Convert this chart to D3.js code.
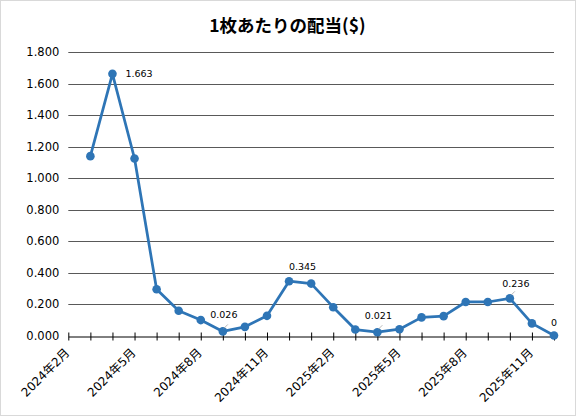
<!DOCTYPE html>
<html>
<head>
<meta charset="utf-8">
<script src="https://cdn.jsdelivr.net/npm/d3@7"></script>
<style>
  html, body { margin: 0; padding: 0; background: #fff; }
</style>
</head>
<body>
<script>
// Months on the axis (Feb 2024 .. Dec 2025)
const months = [
  "2024年2月", "2024年3月", "2024年4月", "2024年5月", "2024年6月", "2024年7月",
  "2024年8月", "2024年9月", "2024年10月", "2024年11月", "2024年12月", "2025年1月",
  "2025年2月", "2025年3月", "2025年4月", "2025年5月", "2025年6月", "2025年7月",
  "2025年8月", "2025年9月", "2025年10月", "2025年11月", "2025年12月"
];
// Only every third month is labelled
const tickLabels = ["2024年2月", "2024年5月", "2024年8月", "2024年11月",
  "2025年2月", "2025年5月", "2025年8月", "2025年11月"];

// Dividend per share, Mar 2024 .. Dec 2025
const dataMonths = months.slice(1);
const dividends = [1.140, 1.663, 1.125, 0.294, 0.157, 0.098, 0.026, 0.055, 0.125,
  0.345, 0.330, 0.180, 0.038, 0.021, 0.040, 0.115, 0.123, 0.213, 0.213, 0.236,
  0.077, 0];
const labelled = ["2024年4月", "2024年9月", "2024年12月", "2025年4月", "2025年10月", "2025年12月"];

const yTicks = [0, 0.2, 0.4, 0.6, 0.8, 1.0, 1.2, 1.4, 1.6, 1.8];

const width = 576, height = 416;
const margins = { left: 68.3, right: 22, top: 52.3, bottom: 80.5 };
const blue = "#2E75B6";
const numFont = "'DejaVu Sans', 'Noto Sans CJK JP', sans-serif";

const data = dataMonths.map((m, i) => ({ month: m, value: dividends[i] }));

// Scales
const xScale = d3.scalePoint()
  .domain(months)
  .range([margins.left, width - margins.right]);

const yScale = d3.scaleLinear()
  .domain([0, 1.8])
  .range([height - margins.bottom, margins.top]);

const svg = d3.select("body").append("svg")
  .attr("width", width)
  .attr("height", height)
  .style("display", "block");

// Chart border
svg.append("rect")
  .attr("x", 0.5).attr("y", 0.5)
  .attr("width", width - 1).attr("height", height - 1)
  .attr("fill", "#fff")
  .attr("stroke", "#d9d9d9");

// Title
svg.append("text")
  .attr("x", 287.5)
  .attr("y", 31.5)
  .attr("text-anchor", "middle")
  .attr("font-family", "'Noto Sans CJK JP', sans-serif")
  .attr("font-weight", "bold")
  .attr("font-size", "17.5px")
  .attr("fill", "#000")
  .text("1枚あたりの配当($)");

// Gridlines
svg.append("g")
  .selectAll("line")
  .data(yTicks.filter((d) => d > 0))
  .join("line")
  .attr("x1", margins.left)
  .attr("x2", width - margins.right)
  .attr("y1", (d) => Math.round(yScale(d)) + 0.5)
  .attr("y2", (d) => Math.round(yScale(d)) + 0.5)
  .attr("stroke", "#595959")
  .attr("stroke-width", 1);

// Y-axis labels (no axis line)
const yAxis = d3.axisLeft(yScale).tickValues(yTicks).tickFormat(d3.format(".3f")).tickSize(0).tickPadding(9);
svg.append("g")
  .attr("transform", `translate(${margins.left}, 0)`)
  .call(yAxis)
  .call((g) => g.select(".domain").remove())
  .selectAll("text")
  .attr("font-family", numFont)
  .attr("font-size", "11.5px")
  .attr("fill", "#000");

// X-axis with crossing ticks
const y0 = Math.round(yScale(0)) + 0.5;
const xAxis = d3.axisBottom(xScale).tickSizeInner(4).tickSizeOuter(0).tickFormat("");
const xg = svg.append("g")
  .attr("transform", `translate(0, ${y0})`)
  .call(xAxis);
xg.select(".domain").attr("stroke", "#000");
xg.selectAll(".tick line").attr("y1", -4).attr("y2", 4).attr("stroke", "#000");

// X labels, rotated
svg.append("g")
  .selectAll("text")
  .data(tickLabels)
  .join("text")
  .attr("transform", (d) => `translate(${xScale(d) + 2}, ${y0 + 17}) rotate(-45)`)
  .attr("text-anchor", "end")
  .attr("font-family", numFont)
  .attr("font-size", "12px")
  .attr("fill", "#000")
  .text((d) => d);

// Line
const line = d3.line()
  .x((d) => xScale(d.month))
  .y((d) => yScale(d.value));

svg.append("path")
  .datum(data)
  .attr("d", line)
  .attr("fill", "none")
  .attr("stroke", blue)
  .attr("stroke-width", 2.75)
  .attr("stroke-linejoin", "round");

// Markers
svg.append("g")
  .selectAll("circle")
  .data(data)
  .join("circle")
  .attr("cx", (d) => xScale(d.month))
  .attr("cy", (d) => yScale(d.value))
  .attr("r", 4.3)
  .attr("fill", blue);

// Data labels
const labelData = data.filter((d) => labelled.includes(d.month));
const lg = svg.append("g");
labelData.forEach((d) => {
  const px = xScale(d.month), py = yScale(d.value);
  let tx, ty, anchor = "middle", leader = false;
  if (d.value > 1) {
    tx = px + 13; ty = py; anchor = "start";
  } else if (d.value === 0) {
    tx = px; ty = py - 13;
  } else if (d.month === "2024年12月") {
    tx = px + 13.5; ty = py - 14.5;
  } else if (d.month === "2025年10月") {
    tx = px + 6; ty = py - 15;
    leader = true;
  } else {
    tx = px + 1; ty = py - 17;
    leader = true;
  }
  if (leader) {
    lg.append("line")
      .attr("x1", px + 1).attr("y1", py - 3)
      .attr("x2", px + 5).attr("y2", py - 7)
      .attr("stroke", "#a6a6a6")
      .attr("stroke-width", 0.8);
  }
  lg.append("text")
    .attr("x", tx)
    .attr("y", ty)
    .attr("dy", "0.35em")
    .attr("text-anchor", anchor)
    .attr("font-family", numFont)
    .attr("font-size", "9.5px")
    .attr("fill", "#000")
    .text(String(d.value));
});
</script>
</body>
</html>
